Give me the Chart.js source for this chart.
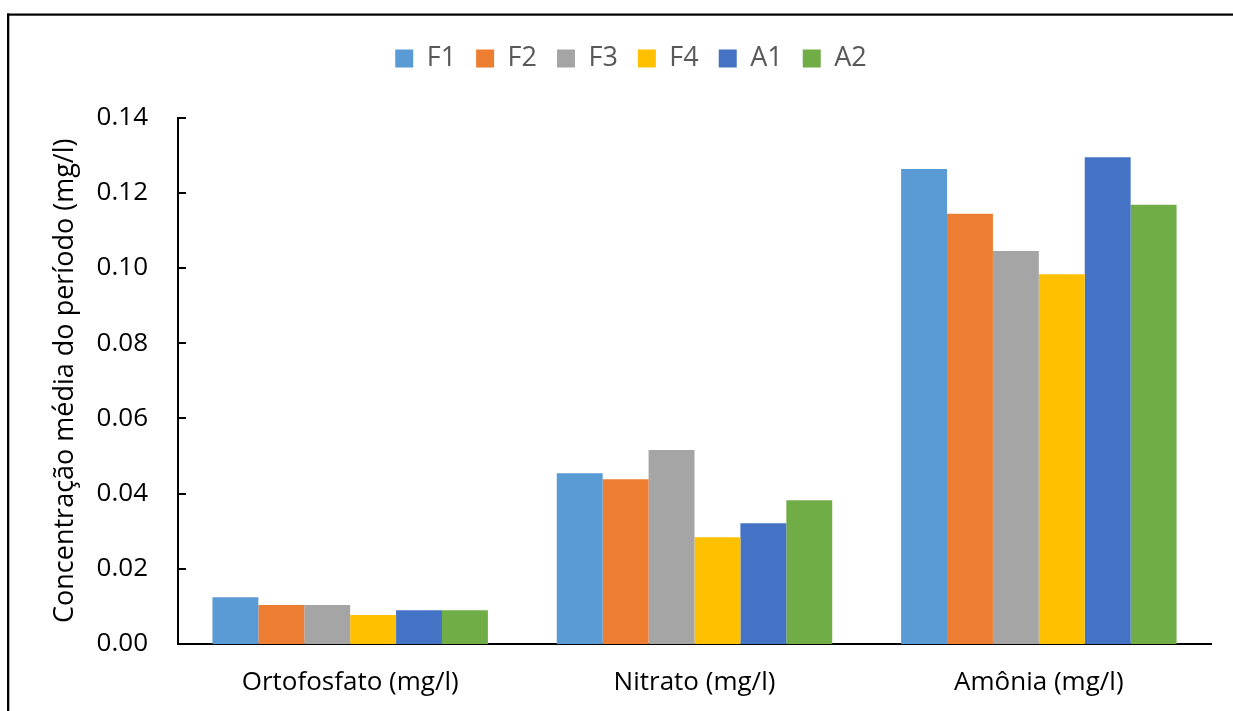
<!DOCTYPE html>
<html lang="pt">
<head>
<meta charset="utf-8">
<title>Concentração média do período</title>
<script src="https://cdn.jsdelivr.net/npm/chart.js@4.4.1/dist/chart.umd.min.js"></script>
<style>
  html, body { margin: 0; padding: 0; background: #ffffff; overflow: hidden; }
  #wrap { position: relative; width: 1233px; height: 711px; }
  canvas { display: block; }
</style>
</head>
<body>
<div id="wrap"><canvas id="chart" width="1233" height="711"></canvas></div>
<script>
// Parâmetros analisados
const categories = ['Ortofosfato (mg/l)', 'Nitrato (mg/l)', 'Amônia (mg/l)'];

// Concentração média por ponto de coleta (mg/l)
const F1 = [0.0124, 0.0454, 0.1263];
const F2 = [0.0104, 0.0438, 0.1144];
const F3 = [0.0104, 0.0516, 0.1045];
const F4 = [0.0077, 0.0284, 0.0983];
const A1 = [0.0090, 0.0321, 0.1294];
const A2 = [0.0090, 0.0382, 0.1168];

const seriesNames = ['F1', 'F2', 'F3', 'F4', 'A1', 'A2'];
const seriesValues = [F1, F2, F3, F4, A1, A2];
const seriesColors = ['#5B9BD5', '#ED7D31', '#A5A5A5', '#FFC000', '#4472C4', '#70AD47'];

// Eixo Y
const yMin = 0;
const yMax = 0.14;
const yStep = 0.02;
const yTitle = 'Concentração média do período (mg/l)';

const FONT = "'Open Sans', 'Noto Sans', sans-serif";

// Moldura do gráfico (linhas superior e esquerda)
const framePlugin = {
  id: 'frame',
  beforeDraw(chart) {
    const ctx = chart.ctx;
    ctx.save();
    ctx.fillStyle = '#ffffff';
    ctx.fillRect(0, 0, chart.width, chart.height);
    ctx.fillStyle = '#000000';
    ctx.fillRect(7, 13.5, 2.3, chart.height - 13.5);
    ctx.fillRect(7, 13.5, chart.width - 7, 2.2);
    ctx.restore();
  }
};

// Marcas de escala voltadas para dentro da área de plotagem
const innerTicksPlugin = {
  id: 'innerTicks',
  afterDraw(chart) {
    const y = chart.scales.y;
    const ctx = chart.ctx;
    const x0 = chart.chartArea.left;
    ctx.save();
    ctx.strokeStyle = '#000000';
    ctx.lineWidth = 2;
    ctx.beginPath();
    y.ticks.forEach(t => {
      const py = Math.round(y.getPixelForValue(t.value));
      ctx.moveTo(x0, py);
      ctx.lineTo(x0 + 8, py);
    });
    ctx.stroke();
    ctx.restore();
  }
};

// Altura fixa da legenda, para deixar espaço acima da área de plotagem
const legendHeightPlugin = {
  id: 'legendHeight',
  afterInit(chart) {
    const legend = chart.legend;
    if (!legend || legend._fitWrapped) return;
    const origFit = legend.fit;
    legend.fit = function () {
      origFit.call(this);
      this.height = 92.5;
    };
    legend._fitWrapped = true;
  }
};

const datasets = seriesNames.map((name, i) => ({
  label: name,
  data: seriesValues[i],
  backgroundColor: seriesColors[i],
  borderWidth: 0,
  categoryPercentage: 0.8,
  barPercentage: 1.0
}));

new Chart(document.getElementById('chart'), {
  type: 'bar',
  data: { labels: categories, datasets },
  options: {
    responsive: false,
    animation: false,
    devicePixelRatio: 1,
    layout: { padding: { top: 25, left: 51, right: 22, bottom: 0 } },
    plugins: {
      legend: {
        display: true,
        position: 'top',
        labels: {
          boxWidth: 18,
          boxHeight: 18,
          padding: 20,
          color: '#595959',
          font: { family: FONT, size: 27 }
        }
      },
      tooltip: { enabled: false }
    },
    scales: {
      x: {
        z: 1,
        grid: { display: false, drawTicks: false },
        border: { display: true, color: '#000000', width: 2 },
        ticks: {
          color: '#000000',
          padding: 23,
          maxRotation: 0,
          autoSkip: false,
          font: { family: FONT, size: 26 }
        },
        afterFit(scale) { scale.height = 67; }
      },
      y: {
        z: 1,
        min: yMin,
        max: yMax,
        grid: { display: false, drawTicks: false },
        border: { display: true, color: '#000000', width: 2 },
        ticks: {
          stepSize: yStep,
          color: '#000000',
          padding: 30,
          font: { family: FONT, size: 26 },
          callback: v => Number(v).toFixed(2)
        },
        title: {
          display: true,
          text: yTitle,
          color: '#000000',
          padding: { top: 0, bottom: 0 },
          font: { family: FONT, size: 27, lineHeight: 1.05 }
        },
        afterFit(scale) { scale.width = 127; }
      }
    }
  },
  plugins: [framePlugin, innerTicksPlugin, legendHeightPlugin]
});
</script>
</body>
</html>
